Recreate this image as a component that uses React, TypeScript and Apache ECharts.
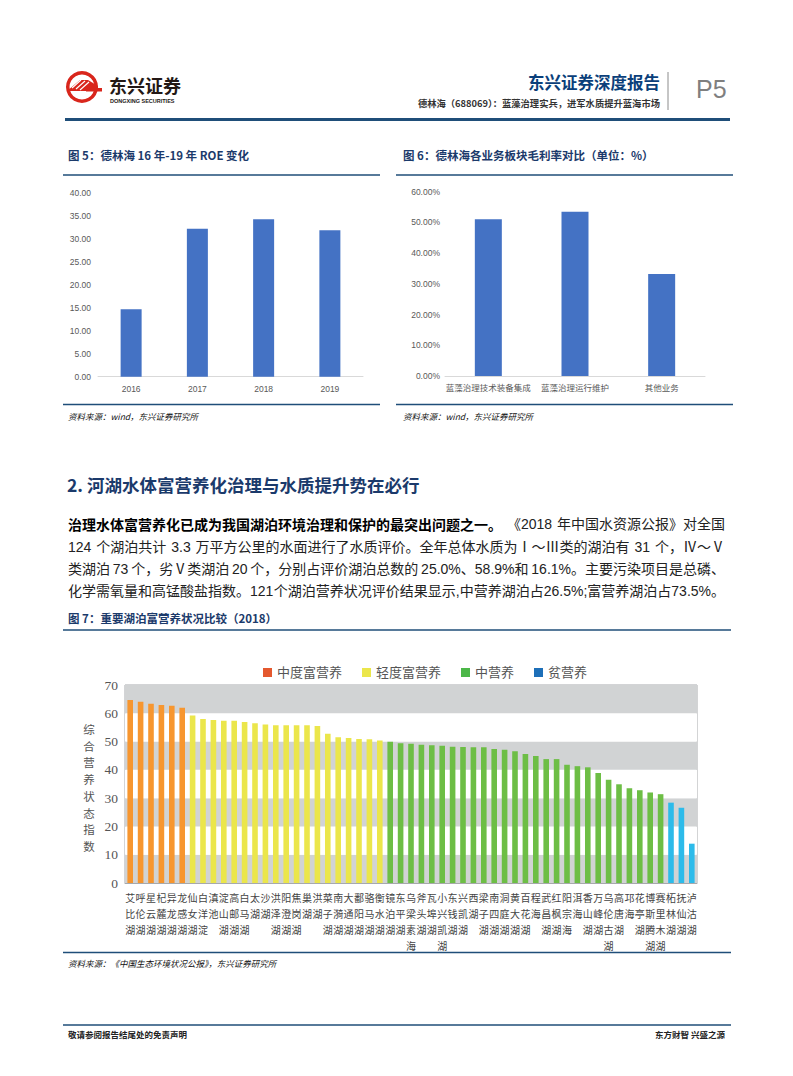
import React, { useEffect, useRef } from 'react';
import * as echarts from 'echarts';

// ---------- Data ----------
const roeYears = ['2016', '2017', '2018', '2019'];
const roeValues = [14.7, 32.2, 34.3, 31.9];

const segmentNames = ['蓝藻治理技术装备集成', '蓝藻治理运行维护', '其他业务'];
const segmentMargins = [51.0, 53.5, 33.2];

const trophicLevels = ['中度富营养', '轻度富营养', '中营养', '贫营养'];
const levelCounts = [6, 19, 27, 3];
const levelBarColors = ['#F7962F', '#EBE64B', '#6DBE45', '#2DBBEA'];
const levelLegendColors = ['#E4582E', '#EBE64B', '#4CB748', '#1D6FB8'];

const lakeNames = [
  '艾比湖', '呼伦湖', '星云湖', '杞麓湖', '异龙湖', '龙感湖',
  '仙女湖', '白洋淀', '滇池', '淀山湖', '高邮湖', '白马湖', '太湖', '沙湖', '洪泽湖', '阳澄湖',
  '焦岗湖', '巢湖', '洪湖', '菜子湖', '南漪湖', '大通湖', '鄱阳湖', '骆马湖', '衡水湖',
  '镜泊湖', '东平湖', '乌梁素海', '斧头湖', '瓦埠湖', '小兴凯湖', '东钱湖', '兴凯湖', '西湖',
  '梁子湖', '南四湖', '洞庭湖', '黄大湖', '百花湖', '程海', '武昌湖', '红枫湖', '阳宗海', '洱海',
  '香山湖', '万峰湖', '乌伦古湖', '高唐湖', '邛海', '花亭湖', '博斯腾湖', '赛里木湖',
  '柘林湖', '抚仙湖', '泸沽湖',
];
const lakeValues = [
  64.7, 64.1, 63.4, 62.9, 62.7, 62.0,
  59.2, 58.0, 57.6, 57.4, 57.4, 56.9, 56.5, 56.0, 55.8, 55.8, 55.8, 55.8, 55.5, 52.8, 51.5, 51.3, 50.9, 50.8, 50.4,
  49.9, 49.4, 49.2, 48.9, 48.7, 48.5, 48.2, 48.1, 48.0, 48.0, 47.4, 47.1, 46.6, 45.6, 44.9, 43.8, 43.8,
  41.8, 41.3, 40.9, 38.9, 36.5, 34.9, 33.5, 32.8, 32.0, 31.4,
  28.4, 26.6, 13.9,
];

const paraLead = '治理水体富营养化已成为我国湖泊环境治理和保护的最突出问题之一。';
const paraLines = [
  '《2018 年中国水资源公报》对全国',
  '124 个湖泊共计 3.3 万平方公里的水面进行了水质评价。全年总体水质为Ⅰ～Ⅲ类的湖泊有 31 个，Ⅳ～Ⅴ',
  '类湖泊 73 个，劣Ⅴ类湖泊 20 个，分别占评价湖泊总数的 25.0%、58.9%和 16.1%。主要污染项目是总磷、',
  '化学需氧量和高锰酸盐指数。121 个湖泊营养状况评价结果显示,中营养湖泊占26.5%;富营养湖泊占73.5%。',
];

const NAVY = '#1F4E79';
const TITLE = '#1B3A6B';
const SANS = '"Liberation Sans", "Noto Sans CJK SC", sans-serif';
const CJK = '"Noto Sans CJK SC", sans-serif';
const SERIF = '"Liberation Serif", "Noto Sans CJK SC", serif';

function lakeLevelOf(i: number): number {
  let acc = 0;
  for (let k = 0; k < levelCounts.length; k++) {
    acc += levelCounts[k];
    if (i < acc) return k;
  }
  return levelCounts.length - 1;
}

export default function App() {
  const ref = useRef<HTMLDivElement>(null);
  useEffect(() => {
    document.body.style.margin = '0';
    document.body.style.overflow = 'hidden';
    if (!ref.current) return;
    const chart = echarts.init(ref.current, null, { renderer: 'svg' });

    const ctx = document.createElement('canvas').getContext('2d') as CanvasRenderingContext2D;
    const measure = (s: string, size: number, weight: string, family: string) => {
      ctx.font = `${weight} ${size}px ${family}`;
      return ctx.measureText(s).width;
    };

    const hline = (x1: number, x2: number, y: number, w: number, c = NAVY) => ({
      type: 'line', shape: { x1, y1: y, x2, y2: y }, style: { stroke: c, lineWidth: w }, silent: true,
    });
    const txt = (x: number, y: number, text: string, style: any) => ({
      type: 'text', x, y, silent: true,
      style: { text, fontFamily: CJK, textVerticalAlign: 'middle', verticalAlign: 'middle', ...style },
    });

    // justified paragraph lines (extra space spread over word gaps)
    const PSIZE = 14;
    const pLeft = 68;
    const pRight = 725;
    const paraY = [524, 547, 569, 591];
    const paraGraphics: any[] = [];
    paraY.forEach((y, li) => {
      const items: { t: string; bold: boolean }[] = [];
      if (li === 0) items.push({ t: paraLead, bold: true });
      paraLines[li].split(' ').filter((s) => s).forEach((t) => items.push({ t, bold: false }));
      const widths = items.map((it) =>
        measure(it.t, PSIZE, it.bold ? 'bold' : 'normal', it.bold ? CJK : SANS)
      );
      const total = widths.reduce((a, b) => a + b, 0);
      const gaps = Math.max(1, items.length - 1);
      const gap = Math.max(-6, (pRight - pLeft - total) / gaps);
      let x = pLeft;
      items.forEach((it, i) => {
        paraGraphics.push(
          txt(x, y, it.t, {
            fontSize: PSIZE,
            fontWeight: it.bold ? 'bold' : 'normal',
            fontFamily: it.bold ? CJK : SANS,
            fill: it.bold ? '#000' : '#222',
          })
        );
        x += widths[i] + gap;
      });
    });

    const yNameChars = '综合营养状态指数'.split('').map((ch, i) =>
      txt(89, 729 + i * 16.7, ch, { fontSize: 11.5, lineHeight: 12, fill: '#555', textAlign: 'center', align: 'center' })
    );

    const graphics: any[] = [
      // logo
      { type: 'ring', shape: { cx: 82, cy: 87, r: 16, r0: 12.5 }, style: { fill: '#D9261C' } },
      { type: 'polygon', shape: { points: [[67, 91], [80, 80], [88, 80], [98, 86], [98, 91]] }, style: { fill: '#D9261C' } },
      { type: 'line', shape: { x1: 72, y1: 88, x2: 81, y2: 80 }, style: { stroke: '#fff', lineWidth: 1.2 } },
      { type: 'line', shape: { x1: 76, y1: 89, x2: 85, y2: 81 }, style: { stroke: '#fff', lineWidth: 1.2 } },
      { type: 'line', shape: { x1: 80, y1: 90, x2: 89, y2: 82 }, style: { stroke: '#fff', lineWidth: 1.2 } },
      { type: 'rect', shape: { x: 86, y: 88, width: 16, height: 3.5 }, style: { fill: '#D9261C' } },
      txt(109, 85, '东兴证券', { fontSize: 18, fontWeight: 'bold', fill: '#231815' }),
      txt(110, 100.5, 'DONGXING SECURITIES', { fontSize: 5.5, fontWeight: 'bold', fill: '#231815', fontFamily: SANS }),
      // right header
      txt(660, 82, '东兴证券深度报告', { fontSize: 16.5, fontWeight: 'bold', fill: '#0B3F7A', textAlign: 'right', align: 'right' }),
      txt(660, 102.5, '德林海（688069）：蓝藻治理实兵，进军水质提升蓝海市场', { fontSize: 9.3, fontWeight: 'bold', fill: '#333', textAlign: 'right', align: 'right' }),
      { type: 'line', shape: { x1: 668, y1: 72, x2: 668, y2: 110 }, style: { stroke: '#8C8C8C', lineWidth: 1 } },
      txt(696, 89, 'P5', { fontSize: 25, fill: '#7F7F7F', fontFamily: SANS }),
      hline(65, 730, 119.5, 3),
      // figure 5 / 6 titles
      txt(68, 155, '图 5：德林海 16 年-19 年 ROE 变化', { fontSize: 11.5, fontWeight: 'bold', fill: TITLE }),
      hline(63, 380, 175, 1.3),
      txt(403, 155, '图 6：德林海各业务板块毛利率对比（单位：%）', { fontSize: 11.5, fontWeight: 'bold', fill: TITLE }),
      hline(396, 733, 175, 1.3),
      hline(63, 380, 404.5, 1.3),
      hline(396, 733, 404.5, 1.3),
      txt(68, 416, '资料来源：wind，东兴证券研究所', { fontSize: 8.5, fontStyle: 'italic', fill: '#111' }),
      txt(403, 416, '资料来源：wind，东兴证券研究所', { fontSize: 8.5, fontStyle: 'italic', fill: '#111' }),
      // section heading
      txt(67, 484, '2. 河湖水体富营养化治理与水质提升势在必行', { fontSize: 17.5, fontWeight: 'bold', fill: TITLE }),
      ...paraGraphics,
      // figure 7 title
      txt(68, 618, '图 7：重要湖泊富营养状况比较（2018）', { fontSize: 11.5, fontWeight: 'bold', fill: TITLE }),
      hline(63, 731, 630, 1.3),
      hline(63, 731, 952.5, 1.3),
      txt(68, 963, '资料来源：《中国生态环境状况公报》，东兴证券研究所', { fontSize: 8.5, fontStyle: 'italic', fill: '#111' }),
      ...yNameChars,
      // footer
      hline(63, 731, 1025, 1.3),
      txt(68, 1033.5, '敬请参阅报告结尾处的免责声明', { fontSize: 8.5, fontWeight: 'bold', fill: '#222' }),
      txt(725, 1033.5, '东方财智 兴盛之源', { fontSize: 8.5, fontWeight: 'bold', fill: '#222', textAlign: 'right', align: 'right' }),
    ];

    const grayLabel = { color: '#595959', fontSize: 8.5, fontFamily: SANS };

    const lakeSeries = trophicLevels.map((lv, k) => ({
      name: lv,
      type: 'bar',
      xAxisIndex: 2,
      yAxisIndex: 2,
      stack: 'lakes',
      barWidth: 5.6,
      itemStyle: { color: levelBarColors[k] },
      data: lakeValues.map((v, i) => (lakeLevelOf(i) === k ? v : '-')),
    }));

    const option: any = {
      animation: false,
      textStyle: { fontFamily: SANS },
      graphic: graphics,
      legend: {
        top: 661,
        left: 258,
        itemGap: 20,
        itemWidth: 9,
        itemHeight: 9,
        icon: 'rect',
        textStyle: { fontSize: 13, color: '#555', fontFamily: SERIF },
        data: trophicLevels.map((lv, k) => ({ name: lv, itemStyle: { color: levelLegendColors[k] } })),
      },
      grid: [
        { left: 98, top: 193, width: 265, height: 183.7 },
        { left: 445, top: 191.7, width: 260, height: 184.3 },
        { left: 125, top: 685, width: 572, height: 198, show: true, borderColor: '#A7A9AC', borderWidth: 1 },
      ],
      xAxis: [
        {
          gridIndex: 0, type: 'category', data: roeYears,
          axisLine: { lineStyle: { color: '#D9D9D9' } }, axisTick: { show: false },
          axisLabel: { ...grayLabel, margin: 8 },
        },
        {
          gridIndex: 1, type: 'category', data: segmentNames,
          axisLine: { lineStyle: { color: '#D9D9D9' } }, axisTick: { show: false },
          axisLabel: { ...grayLabel, fontFamily: CJK, margin: 7, interval: 0 },
        },
        {
          gridIndex: 2, type: 'category', data: lakeNames,
          axisLine: { lineStyle: { color: '#A7A9AC' } }, axisTick: { show: false },
          axisLabel: {
            interval: 0, margin: 7, fontSize: 10, lineHeight: 15.8, color: '#444', fontFamily: CJK,
            formatter: (v: string) => v.split('').join('\n'),
          },
        },
      ],
      yAxis: [
        {
          gridIndex: 0, type: 'value', min: 0, max: 40, interval: 5,
          axisLine: { show: false }, axisTick: { show: false }, splitLine: { show: false },
          axisLabel: { ...grayLabel, margin: 7, formatter: (v: number) => v.toFixed(2) },
        },
        {
          gridIndex: 1, type: 'value', min: 0, max: 60, interval: 10,
          axisLine: { show: false }, axisTick: { show: false }, splitLine: { show: false },
          axisLabel: { ...grayLabel, margin: 5, formatter: (v: number) => v.toFixed(2) + '%' },
        },
        {
          gridIndex: 2, type: 'value', min: 0, max: 70, interval: 10,
          axisLine: { show: false }, axisTick: { show: false }, splitLine: { show: false },
          splitArea: { show: true, areaStyle: { color: ['#D1D3D4', '#FFFFFF'] } },
          axisLabel: { margin: 7, fontSize: 13.5, color: '#555', fontFamily: SERIF },
        },
      ],
      series: [
        {
          name: 'ROE', type: 'bar', xAxisIndex: 0, yAxisIndex: 0, barWidth: 21,
          itemStyle: { color: '#4472C4' }, data: roeValues,
        },
        {
          name: '毛利率', type: 'bar', xAxisIndex: 1, yAxisIndex: 1, barWidth: 27,
          itemStyle: { color: '#4472C4' }, data: segmentMargins,
        },
        ...lakeSeries,
      ],
    };
    chart.setOption(option);
    return () => chart.dispose();
  }, []);
  return <div ref={ref} style={{ width: 793, height: 1076 }} />;
}
